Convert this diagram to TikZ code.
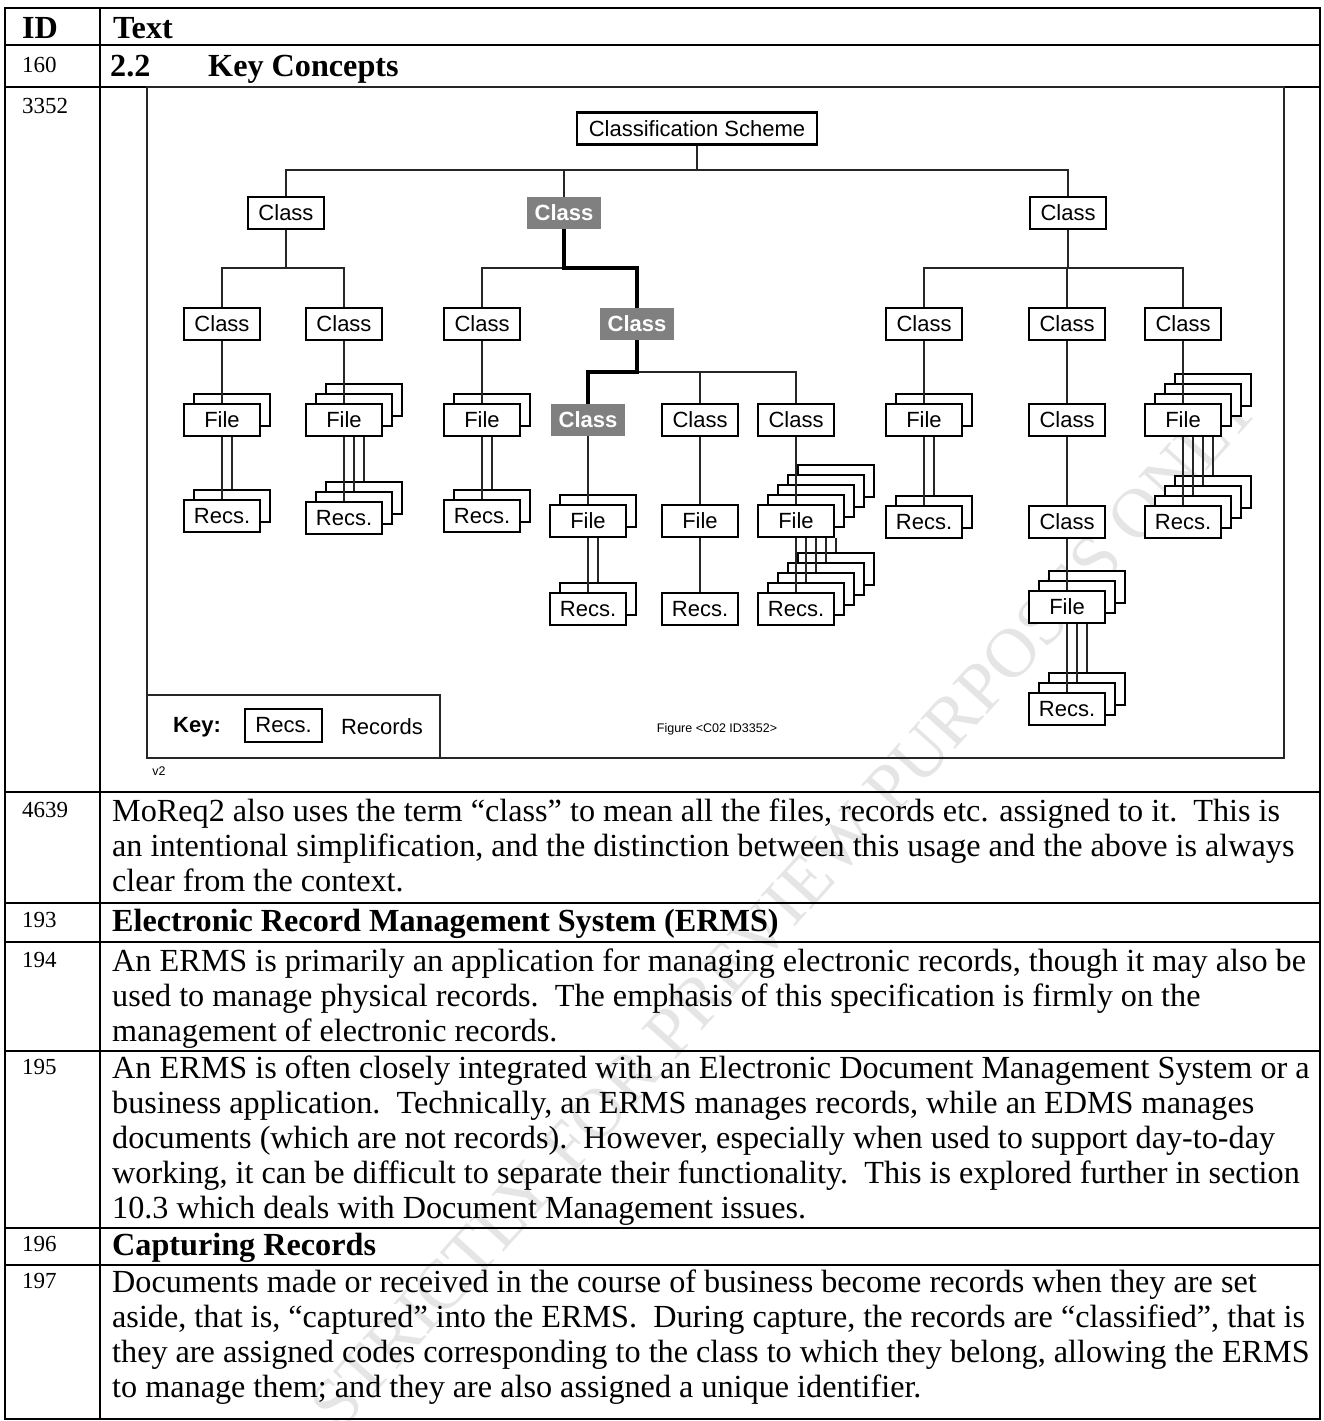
\documentclass[tikz,border=0pt]{standalone}
\usepackage{fontspec}
\setmainfont{Liberation Serif}
\newfontfamily\arialf{Liberation Sans}
\newcommand\bodyf{\rmfamily\fontsize{32.2}{35}\selectfont}
\newcommand\bodyb{\rmfamily\bfseries\fontsize{32.2}{35}\selectfont}
\newcommand\idf{\rmfamily\fontsize{23}{26}\selectfont}
\newcommand\dgf{\arialf\fontsize{22}{26}\selectfont}
\newcommand\dgb{\arialf\bfseries\fontsize{22}{26}\selectfont}
\newcommand\smf{\arialf\fontsize{12.5}{15}\selectfont}
\tikzset{
  bx/.style={draw=black, line width=2.8pt, fill=white, minimum width=76pt, minimum height=32pt, inner sep=0pt, font=\dgf},
  gbx/.style={fill=black!50, text=white, minimum width=74pt, minimum height=32pt, inner sep=0pt, font=\dgb},
  conn/.style={line width=1.3pt, draw=black!85},
  hl/.style={line width=4pt, draw=black},
  tb/.style={line width=2pt, draw=black},
  tx/.style={anchor=base west, inner sep=0pt, font=\bodyf},
  txb/.style={anchor=base west, inner sep=0pt, font=\bodyb},
  idt/.style={anchor=base west, inner sep=0pt, font=\idf},
}
\newcommand\stk[5]{%
  \foreach \k in {#5,...,0}{%
    \ifnum\k=0
      \node[bx] (#1-\k) at ({#2},{#3}) {#4};
    \else
      \node[bx] (#1-\k) at ({#2+10*\k},{#3-10*\k}) {};
    \fi
  }%
}
\newcommand\lnk[3]{%
  \foreach \k in {0,...,#3}{\draw[conn] (#2-\k.north |- #1-0.south) -- (#2-\k.north);}%
}
\begin{document}
\begin{tikzpicture}[x=1pt,y=-1pt]
\useasboundingbox (0,0) rectangle (1323,1421);
\fill[white] (0,0) rectangle (1323,1421);

% watermark
\node[rotate=48, text=black!10, font=\rmfamily\fontsize{70}{70}\selectfont, inner sep=0pt] (wm) at (785,905) {STRICTLY FOR PREVIEW PURPOSES ONLY};

% table
\draw[tb] (5,8) rectangle (1320,1419);
\draw[tb] (100,8) -- (100,1419);
\foreach \yy in {45,87,792,903,942,1051,1228,1265} \draw[tb] (5,\yy) -- (1320,\yy);

% header and rows
\node[txb] (hid) at (22,39) {ID};
\node[txb] (htx) at (113,39) {Text};
\node[idt] (i160) at (22,73) {160};
\node[txb] (s22) at (110,77) {2.2};
\node[txb] (skc) at (208,77) {Key Concepts};
\node[idt] (i3352) at (22,113) {3352};

\node[idt] (i4639) at (22,817) {4639};
\node[tx] (a1) at (112,821) {MoReq2 also uses the term “class” to mean all the files, records etc. assigned to it.\ \ This is};
\node[tx] (a2) at (112,856) {an intentional simplification, and the distinction between this usage and the above is always};
\node[tx] (a3) at (112,891) {clear from the context.};

\node[idt] (i193) at (22,927) {193};
\node[txb] (b1) at (112,931) {Electronic Record Management System (ERMS)};

\node[idt] (i194) at (22,967) {194};
\node[tx] (c1) at (112,971) {An ERMS is primarily an application for managing electronic records, though it may also be};
\node[tx] (c2) at (112,1006) {used to manage physical records.\ \ The emphasis of this specification is firmly on the};
\node[tx] (c3) at (112,1041) {management of electronic records.};

\node[idt] (i195) at (22,1074) {195};
\node[tx] (d1) at (112,1078) {An ERMS is often closely integrated with an Electronic Document Management System or a};
\node[tx] (d2) at (112,1113) {business application.\ \ Technically, an ERMS manages records, while an EDMS manages};
\node[tx] (d3) at (112,1148) {documents (which are not records).\ \ However, especially when used to support day-to-day};
\node[tx] (d4) at (112,1183) {working, it can be difficult to separate their functionality.\ \ This is explored further in section};
\node[tx] (d5) at (112,1218) {10.3 which deals with Document Management issues.};

\node[idt] (i196) at (22,1251) {196};
\node[txb] (e1) at (112,1255) {Capturing Records};

\node[idt] (i197) at (22,1288) {197};
\node[tx] (f1) at (112,1292) {Documents made or received in the course of business become records when they are set};
\node[tx] (f2) at (112,1327) {aside, that is, “captured” into the ERMS.\ \ During capture, the records are “classified”, that is};
\node[tx] (f3) at (112,1362) {they are assigned codes corresponding to the class to which they belong, allowing the ERMS};
\node[tx] (f4) at (112,1397) {to manage them; and they are also assigned a unique identifier.};

% diagram frame and key
\draw[line width=1.5pt, black!85] (147,87) rectangle (1284,758);
\draw[line width=1.5pt, black!85] (147,695) rectangle (440,758);
\node[font=\dgb, inner sep=0pt] (key) at (197,727) {Key:};
\node[bx, minimum width=77pt, minimum height=33pt] (keyr) at (283.5,725.5) {Recs.};
\node[font=\dgf, inner sep=0pt] (keyt) at (382,727) {Records};
\node[font=\smf, inner sep=0pt] (fig) at (717,729) {Figure <C02 ID3352>};
\node[font=\smf, inner sep=0pt] (v2) at (159,771) {v2};

% tree nodes
\node[bx, minimum width=240pt] (cs) at (697,128.5) {Classification Scheme};
\node[bx] (A) at (286,213) {Class};
\node[gbx] (B) at (564,213) {Class};
\node[bx] (C) at (1068,213) {Class};
\node[bx] (A1) at (222,324) {Class};
\node[bx] (A2) at (344,324) {Class};
\node[bx] (B1) at (482,324) {Class};
\node[gbx] (B2) at (637,324) {Class};
\node[bx] (C1) at (924,324) {Class};
\node[bx] (C2) at (1067,324) {Class};
\node[bx] (C3) at (1183,324) {Class};
\node[gbx] (B21) at (588,420) {Class};
\node[bx] (B22) at (700,420) {Class};
\node[bx] (B23) at (796,420) {Class};
\node[bx] (D1) at (1067,420) {Class};
\node[bx] (D2) at (1067,522) {Class};

\stk{rA1}{222}{516}{Recs.}{1}
\stk{fA1}{222}{420}{File}{1}
\stk{rA2}{344}{518}{Recs.}{2}
\stk{fA2}{344}{420}{File}{2}
\stk{rB1}{482}{516}{Recs.}{1}
\stk{fB1}{482}{420}{File}{1}
\stk{rB21}{588}{609}{Recs.}{1}
\stk{fB21}{588}{521}{File}{1}
\stk{rB22}{700}{609}{Recs.}{0}
\stk{fB22}{700}{521}{File}{0}
\stk{rB23}{796}{609}{Recs.}{4}
\stk{fB23}{796}{521}{File}{4}
\stk{rC1}{924}{522}{Recs.}{1}
\stk{fC1}{924}{420}{File}{1}
\stk{rD2}{1067}{709}{Recs.}{2}
\stk{fD2}{1067}{607}{File}{2}
\stk{rC3}{1183}{522}{Recs.}{3}
\stk{fC3}{1183}{420}{File}{3}

% bus coordinates
\coordinate (bus1) at (697,170);
\coordinate (bus2a) at (286,268);
\coordinate (bus2b) at (564,268);
\coordinate (bus2c) at (1068,268);
\coordinate (bus3) at (637,372);

% tree connectors
\draw[conn] (cs.south) -- (bus1);
\draw[conn] (A.north) |- (bus1);
\draw[conn] (B.north) |- (bus1);
\draw[conn] (C.north) |- (bus1);
\draw[conn] (A.south) -- (bus2a);
\draw[conn] (A1.north) |- (bus2a);
\draw[conn] (A2.north) |- (bus2a);
\draw[conn] (B1.north) |- (bus2b);
\draw[hl] (B.south) -- (bus2b) -| (B2.north);
\draw[conn] (C.south) -- (bus2c);
\draw[conn] (C1.north) |- (bus2c);
\draw[conn] (C2.north) |- (bus2c);
\draw[conn] (C3.north) |- (bus2c);
\draw[conn] (B22.north) |- (bus3);
\draw[conn] (B23.north) |- (bus3);
\draw[hl] (B2.south) -- (bus3) -| (B21.north);

\draw[conn] (A1.south) -- (fA1-0.north);
\draw[conn] (A2.south) -- (fA2-0.north);
\draw[conn] (B1.south) -- (fB1-0.north);
\draw[conn] (B21.south) -- (fB21-0.north);
\draw[conn] (B22.south) -- (fB22-0.north);
\draw[conn] (B23.south) -- (fB23-0.north);
\draw[conn] (C1.south) -- (fC1-0.north);
\draw[conn] (C2.south) -- (D1.north);
\draw[conn] (D1.south) -- (D2.north);
\draw[conn] (D2.south) -- (fD2-0.north);
\draw[conn] (C3.south) -- (fC3-0.north);

\lnk{fA1}{rA1}{1}
\lnk{fA2}{rA2}{2}
\lnk{fB1}{rB1}{1}
\lnk{fB21}{rB21}{1}
\lnk{fB22}{rB22}{0}
\lnk{fB23}{rB23}{4}
\lnk{fC1}{rC1}{1}
\lnk{fD2}{rD2}{2}
\lnk{fC3}{rC3}{3}
\end{tikzpicture}
\end{document}
